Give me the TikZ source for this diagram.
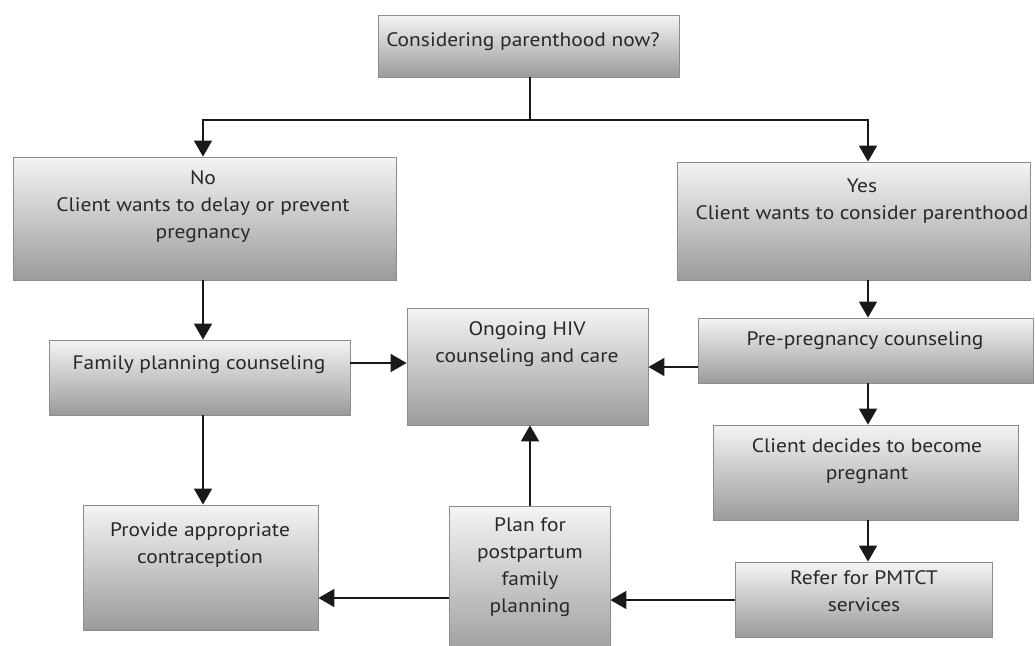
\documentclass[tikz,border=0pt]{standalone}
\usepackage{fontspec}
\setmainfont[FakeStretch=1.1]{PT Sans}
\usetikzlibrary{arrows.meta,calc}
\tikzset{
  box/.style={draw={rgb,255:red,140;green,140;blue,140}, line width=0.8pt, inner sep=0pt,
    top color={rgb,255:red,244;green,244;blue,244}, bottom color={rgb,255:red,155;green,155;blue,155},
    shading angle=0},
  txt/.style={align=center, inner sep=0pt, text={rgb,255:red,40;green,40;blue,40},
    font=\fontsize{19.5}{27}\selectfont},
  arr/.style={draw={rgb,255:red,25;green,25;blue,25}, line width=1.6pt,
    -{Triangle[length=16pt,width=18pt]}},
  ln/.style={draw={rgb,255:red,25;green,25;blue,25}, line width=1.6pt},
}
\begin{document}
\begin{tikzpicture}[x=1pt,y=-1pt]
\useasboundingbox (0,0) rectangle (1035,645);
\clip (0,0) rectangle (1035,645);
% boxes
\node[box, minimum width=301, minimum height=62] (top) at (528.5,46) {};
\node[box, minimum width=383, minimum height=123] (no) at (204.5,218.5) {};
\node[box, minimum width=353, minimum height=118] (yes) at (853.5,221) {};
\node[box, minimum width=301, minimum height=75] (fp) at (199.5,377.5) {};
\node[box, minimum width=241, minimum height=117] (hiv) at (527.5,366.5) {};
\node[box, minimum width=335, minimum height=65] (pre) at (865.5,350.5) {};
\node[box, minimum width=305, minimum height=95] (dec) at (865.5,472.5) {};
\node[box, minimum width=257, minimum height=75] (ref) at (863.5,599.5) {};
\node[box, minimum width=161, minimum height=154] (plan) at (529.5,583) {};
\node[box, minimum width=235, minimum height=125] (prov) at (200.5,567.5) {};
% texts
\node[txt] (topT) at (523,42) {Considering parenthood now?};
\node[txt] (noT) at (203,207) {No\\Client wants to delay or prevent\\pregnancy};
\node[txt] (yesT) at (862,201) {Yes\\Client wants to consider parenthood};
\node[txt] (fpT) at (199,365) {Family planning counseling};
\node[txt] (hivT) at (527,344) {Ongoing HIV\\counseling and care};
\node[txt] (preT) at (865,341) {Pre-pregnancy counseling};
\node[txt] (decT) at (867,461) {Client decides to become\\pregnant};
\node[txt] (refT) at (864,591) {Refer for PMTCT\\services};
\node[txt] (planT) at (530,567) {Plan for\\postpartum\\family\\planning};
\node[txt] (provT) at (200,545) {Provide appropriate\\contraception};
% connectors
\coordinate (split) at (530,120);
\draw[ln] (top.south -| split) -- (split);
\draw[arr] (split) -| (no.north -| 203,0);
\draw[arr] (split) -| ([xshift=14.5pt]yes.north);
\draw[arr] (no.south -| 203,0) -- (fp.north -| 203,0);
\draw[arr] (fp.south -| 203,0) -- (prov.north -| 203,0);
\draw[arr] (fp.east |- 0,363) -- (hiv.west |- 0,363);
\draw[arr] (pre.west |- 0,367) -- (hiv.east |- 0,367);
\draw[arr] (yes.south -| 868,0) -- (pre.north -| 868,0);
\draw[arr] (pre.south -| 868,0) -- (dec.north -| 868,0);
\draw[arr] (dec.south -| 868,0) -- (ref.north -| 868,0);
\draw[arr] (ref.west |- 0,600) -- (plan.east |- 0,600);
\draw[arr] (plan.west |- 0,598) -- (prov.east |- 0,598);
\draw[arr] (plan.north -| 530,0) -- (hiv.south -| 530,0);
\end{tikzpicture}
\end{document}
